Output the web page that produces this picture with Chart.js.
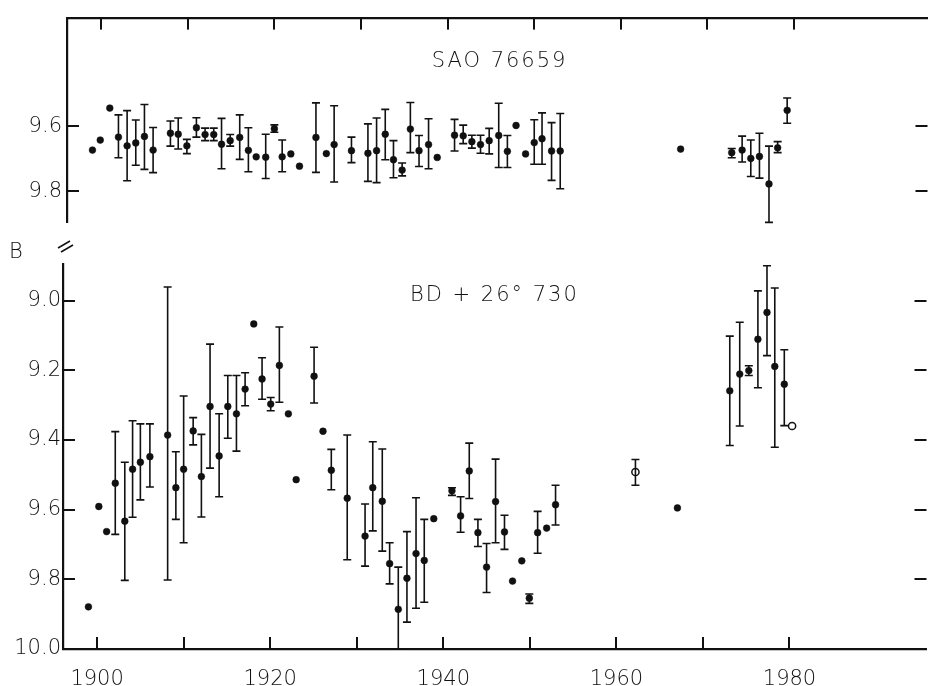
<!DOCTYPE html>
<html>
<head>
<meta charset="utf-8">
<script src="https://cdn.jsdelivr.net/npm/chart.js@4.4.0/dist/chart.umd.min.js"></script>
<style>
  html, body { margin: 0; padding: 0; background: #fff; overflow: hidden; }
  #wrap { position: relative; width: 932px; height: 686px; }
  canvas { position: absolute; left: 0; }
  #topChart { top: 0; }
  #botChart { top: 240px; }
  #bLabel { position: absolute; left: 9px; top: 239px; font: 200 21px "DejaVu Sans", sans-serif; color: #111; }
</style>
</head>
<body>
<div id="wrap">
  <canvas id="topChart" width="932" height="240"></canvas>
  <canvas id="botChart" width="932" height="446"></canvas>
  <div id="bLabel">B</div>
</div>
<script>
// upper panel: SAO 76659
const saoYears = [1899.0, 1899.9, 1901.0, 1902.0, 1903.0, 1904.0, 1905.0, 1906.0, 1908.0, 1908.9,
  1909.9, 1911.0, 1912.0, 1913.0, 1913.9, 1914.9, 1916.0, 1917.0, 1917.9, 1919.0,
  1920.0, 1920.9, 1921.9, 1922.9, 1924.8, 1926.0, 1926.9, 1928.9, 1930.8, 1931.8,
  1932.8, 1933.75, 1934.75, 1935.7, 1936.7, 1937.8, 1938.8, 1940.8, 1941.8, 1942.8,
  1943.8, 1944.8, 1945.9, 1946.9, 1947.9, 1949.0, 1950.0, 1950.9, 1952.0, 1953.0,
  1966.9, 1972.8, 1974.0, 1975.0, 1976.0, 1977.1, 1978.1, 1979.2];
const saoMag = [9.673, 9.642, 9.543, 9.633, 9.660, 9.651, 9.631, 9.673, 9.621, 9.624,
  9.660, 9.604, 9.625, 9.625, 9.655, 9.644, 9.634, 9.674, 9.694, 9.695,
  9.607, 9.694, 9.685, 9.723, 9.634, 9.684, 9.656, 9.675, 9.683, 9.675,
  9.624, 9.703, 9.735, 9.608, 9.675, 9.656, 9.696, 9.627, 9.629, 9.647,
  9.656, 9.644, 9.628, 9.677, 9.597, 9.685, 9.650, 9.638, 9.676, 9.676,
  9.670, 9.681, 9.673, 9.699, 9.693, 9.778, 9.666, 9.550];
// error bar ends (null = no bar)
const saoBarTop = [null, null, null, 9.564, 9.551, 9.580, 9.532, 9.603, 9.583, 9.574,
  9.640, 9.573, 9.605, 9.605, 9.575, 9.625, 9.564, 9.604, null, 9.624,
  9.595, 9.642, null, null, 9.527, null, 9.536, 9.633, 9.592, 9.574,
  9.547, 9.644, 9.713, 9.526, 9.628, 9.576, null, 9.578, 9.596, 9.627,
  9.627, 9.606, 9.528, 9.628, null, null, 9.579, 9.558, 9.588, 9.560,
  null, 9.668, 9.630, 9.642, 9.621, 9.661, 9.647, 9.512];
const saoBarBot = [null, null, null, 9.697, 9.768, 9.720, 9.733, 9.743, 9.661, 9.670,
  9.684, 9.633, 9.644, 9.644, 9.731, 9.661, 9.702, 9.740, null, 9.761,
  9.618, 9.740, null, null, 9.742, null, 9.772, 9.712, 9.770, 9.774,
  9.703, 9.759, 9.753, 9.681, 9.724, 9.731, null, 9.676, 9.653, 9.667,
  9.683, 9.685, 9.727, 9.727, null, null, 9.717, 9.717, 9.767, 9.793,
  null, 9.697, 9.710, 9.755, 9.760, 9.897, 9.681, 9.590];

// lower panel: BD +26 730
const bdYears = [1899.0, 1900.2, 1901.1, 1902.1, 1903.2, 1904.1, 1905.0, 1906.1, 1908.15, 1909.1,
  1910.0, 1911.1, 1912.05, 1913.05, 1914.1, 1915.1, 1916.1, 1917.1, 1918.1, 1919.06,
  1920.06, 1921.06, 1922.1, 1923.0, 1925.07, 1926.1, 1927.06, 1928.9, 1930.96, 1931.85,
  1932.95, 1933.8, 1934.8, 1935.8, 1936.85, 1937.8, 1938.9, 1941.0, 1942.0, 1943.0,
  1944.0, 1945.0, 1946.04, 1947.07, 1948.0, 1949.07, 1949.94, 1950.9, 1951.94, 1952.97,
  1967.05, 1973.1, 1974.25, 1975.3, 1976.35, 1977.4, 1978.3, 1979.4];
const bdMag = [9.879, 9.591, 9.663, 9.524, 9.633, 9.484, 9.464, 9.448, 9.386, 9.537,
  9.484, 9.374, 9.505, 9.304, 9.446, 9.304, 9.325, 9.254, 9.067, 9.225,
  9.297, 9.186, 9.325, 9.514, 9.217, 9.375, 9.487, 9.567, 9.676, 9.537,
  9.576, 9.755, 9.886, 9.797, 9.726, 9.746, 9.626, 9.546, 9.618, 9.489,
  9.666, 9.765, 9.577, 9.664, 9.805, 9.747, 9.854, 9.666, 9.653, 9.586,
  9.595, 9.259, 9.211, 9.201, 9.111, 9.034, 9.189, 9.240];
const bdBarTop = [null, null, null, 9.376, 9.464, 9.345, 9.354, 9.354, 8.961, 9.434,
  9.274, 9.336, 9.384, 9.125, 9.325, 9.215, 9.215, 9.207, null, 9.164,
  9.278, 9.076, null, null, 9.134, null, 9.427, 9.386, 9.584, 9.405,
  9.426, 9.695, 9.765, 9.663, 9.566, 9.628, null, 9.537, 9.563, 9.409,
  9.628, 9.697, 9.455, 9.616, null, null, 9.842, 9.605, null, 9.530,
  null, 9.102, 9.062, 9.187, 8.972, 8.900, 8.964, 9.141];
const bdBarBot = [null, null, null, 9.671, 9.803, 9.622, 9.572, 9.535, 9.802, 9.628,
  9.695, 9.414, 9.621, 9.481, 9.563, 9.395, 9.432, 9.302, null, 9.283,
  9.316, 9.292, null, null, 9.294, null, 9.543, 9.744, 9.762, 9.661,
  9.719, 9.813, 10.0, 9.923, 9.883, 9.866, null, 9.559, 9.665, 9.568,
  9.706, 9.838, 9.695, 9.714, null, null, 9.869, 9.725, null, 9.644,
  null, 9.416, 9.360, 9.215, 9.250, 9.158, 9.421, 9.359];
// open circles
const bdOpenYears = [1962.2, 1980.3];
const bdOpenMag = [9.492, 9.360];
const bdOpenTop = [9.456, null];
const bdOpenBot = [9.530, null];

const xTickYears = [1900, 1910, 1920, 1930, 1940, 1950, 1960, 1970, 1980];
const saoTicks = [9.6, 9.8];
const bdTicks = [9.0, 9.2, 9.4, 9.6, 9.8, 10.0];

const INK = '#111';
const FAMILY = '"DejaVu Sans", sans-serif';
const toPoints = (xs, ys) => xs.map((x, i) => ({ x, y: ys[i] }));

// error bars, inward tick marks, break mark and star name
function marksPlugin(o) {
  return {
    id: 'marks',
    afterDatasetsDraw(chart) {
      const { ctx, chartArea: a, scales: { x, y } } = chart;
      const T = 12;
      ctx.save();
      ctx.strokeStyle = INK;
      ctx.lineWidth = 1.6;
      chart.data.datasets.forEach(ds => {
        ds.data.forEach((p, i) => {
          if (ds.barTop[i] == null) return;
          const px = x.getPixelForValue(p.x);
          const y1 = y.getPixelForValue(ds.barTop[i]);
          const y2 = y.getPixelForValue(ds.barBot[i]);
          ctx.beginPath();
          ctx.moveTo(px, y1); ctx.lineTo(px, y2);
          ctx.moveTo(px - 4, y1); ctx.lineTo(px + 4, y1);
          ctx.moveTo(px - 4, y2); ctx.lineTo(px + 4, y2);
          ctx.stroke();
        });
      });

      // tick marks as small filled bars
      ctx.fillStyle = INK;
      const xl = x.getPixelForValue(o.xmin);
      o.yticks.forEach(v => {
        const py = Math.round(y.getPixelForValue(v));
        ctx.fillRect(xl, py - 1, T, 2);
        ctx.fillRect(a.right - T, py - 1, T, 2);
      });
      xTickYears.forEach(v => {
        const px = Math.round(x.getPixelForValue(v));
        if (o.top) ctx.fillRect(px - 1, a.top, 2, T);
        else ctx.fillRect(px - 1, a.bottom - T, 2, T);
      });

      if (o.brk) {
        ctx.lineWidth = 1.5;
        ctx.beginPath();
        ctx.moveTo(58, 8); ctx.lineTo(70, 1);
        ctx.moveTo(61, 12); ctx.lineTo(73, 5);
        ctx.stroke();
      }
      ctx.font = '200 21px ' + FAMILY;
      ctx.letterSpacing = '2px';
      ctx.textAlign = 'center';
      ctx.textBaseline = 'middle';
      ctx.fillText(o.label, x.getPixelForValue(o.lx), y.getPixelForValue(o.ly));
      ctx.restore();
    }
  };
}

const tickFont = { family: FAMILY, size: 21, weight: 200 };

function makeChart(id, datasets, o) {
  return new Chart(document.getElementById(id), {
    type: 'scatter',
    data: { datasets },
    options: {
      responsive: false,
      animation: false,
      layout: { padding: o.padding },
      plugins: {
        legend: { display: false },
        tooltip: { enabled: false }
      },
      scales: {
        x: {
          type: 'linear',
          position: o.top ? 'top' : 'bottom',
          min: o.xmin, max: o.xmax,
          afterBuildTicks: s => { s.ticks = xTickYears.map(v => ({ value: v })); },
          afterFit: s => { s.height = o.xh; },
          grid: { display: false, drawTicks: false },
          border: { display: true, color: INK, width: 2.2 },
          ticks: {
            display: !o.top,
            padding: 18,
            color: INK,
            font: tickFont,
            maxRotation: 0,
            autoSkip: false,
            callback: v => (v % 20 === 0 ? String(v) : '')
          }
        },
        y: {
          type: 'linear',
          reverse: true,
          min: o.ymin, max: o.ymax,
          afterBuildTicks: s => { s.ticks = o.yticks.map(v => ({ value: v })); },
          afterFit: s => { s.width = o.yw; },
          grid: { display: false, drawTicks: false },
          border: { display: true, color: INK, width: 2.2 },
          ticks: {
            padding: o.ypad,
            color: INK,
            font: tickFont,
            callback: v => v.toFixed(1)
          }
        }
      }
    },
    plugins: [marksPlugin(o)]
  });
}

const dot = { pointRadius: 3.4, pointBackgroundColor: INK, pointBorderColor: INK, pointBorderWidth: 0.5 };

makeChart('topChart', [
  { data: toPoints(saoYears, saoMag), barTop: saoBarTop, barBot: saoBarBot, ...dot }
], {
  top: true,
  padding: { top: 0, bottom: 9, left: 0, right: 0 },
  xmin: 1896.06, xmax: 1995.4, xh: 7,
  ymin: 9.263, ymax: 9.897, yw: 67, ypad: 5, yticks: saoTicks,
  label: 'SAO 76659', lx: 1946.0, ly: 9.40
});

makeChart('botChart', [
  { data: toPoints(bdYears, bdMag), barTop: bdBarTop, barBot: bdBarBot, ...dot },
  { data: toPoints(bdOpenYears, bdOpenMag), barTop: bdOpenTop, barBot: bdOpenBot,
    pointRadius: 3.6, pointBackgroundColor: '#fff', pointBorderColor: INK, pointBorderWidth: 1.5 }
], {
  top: false, brk: true,
  padding: { top: 24, bottom: 0, left: 0, right: 0 },
  xmin: 1896.06, xmax: 1995.83, xh: 37,
  ymin: 8.895, ymax: 10.0, yw: 63, ypad: 2, yticks: bdTicks,
  label: 'BD + 26° 730', lx: 1945.9, ly: 8.985
});
</script>
</body>
</html>
